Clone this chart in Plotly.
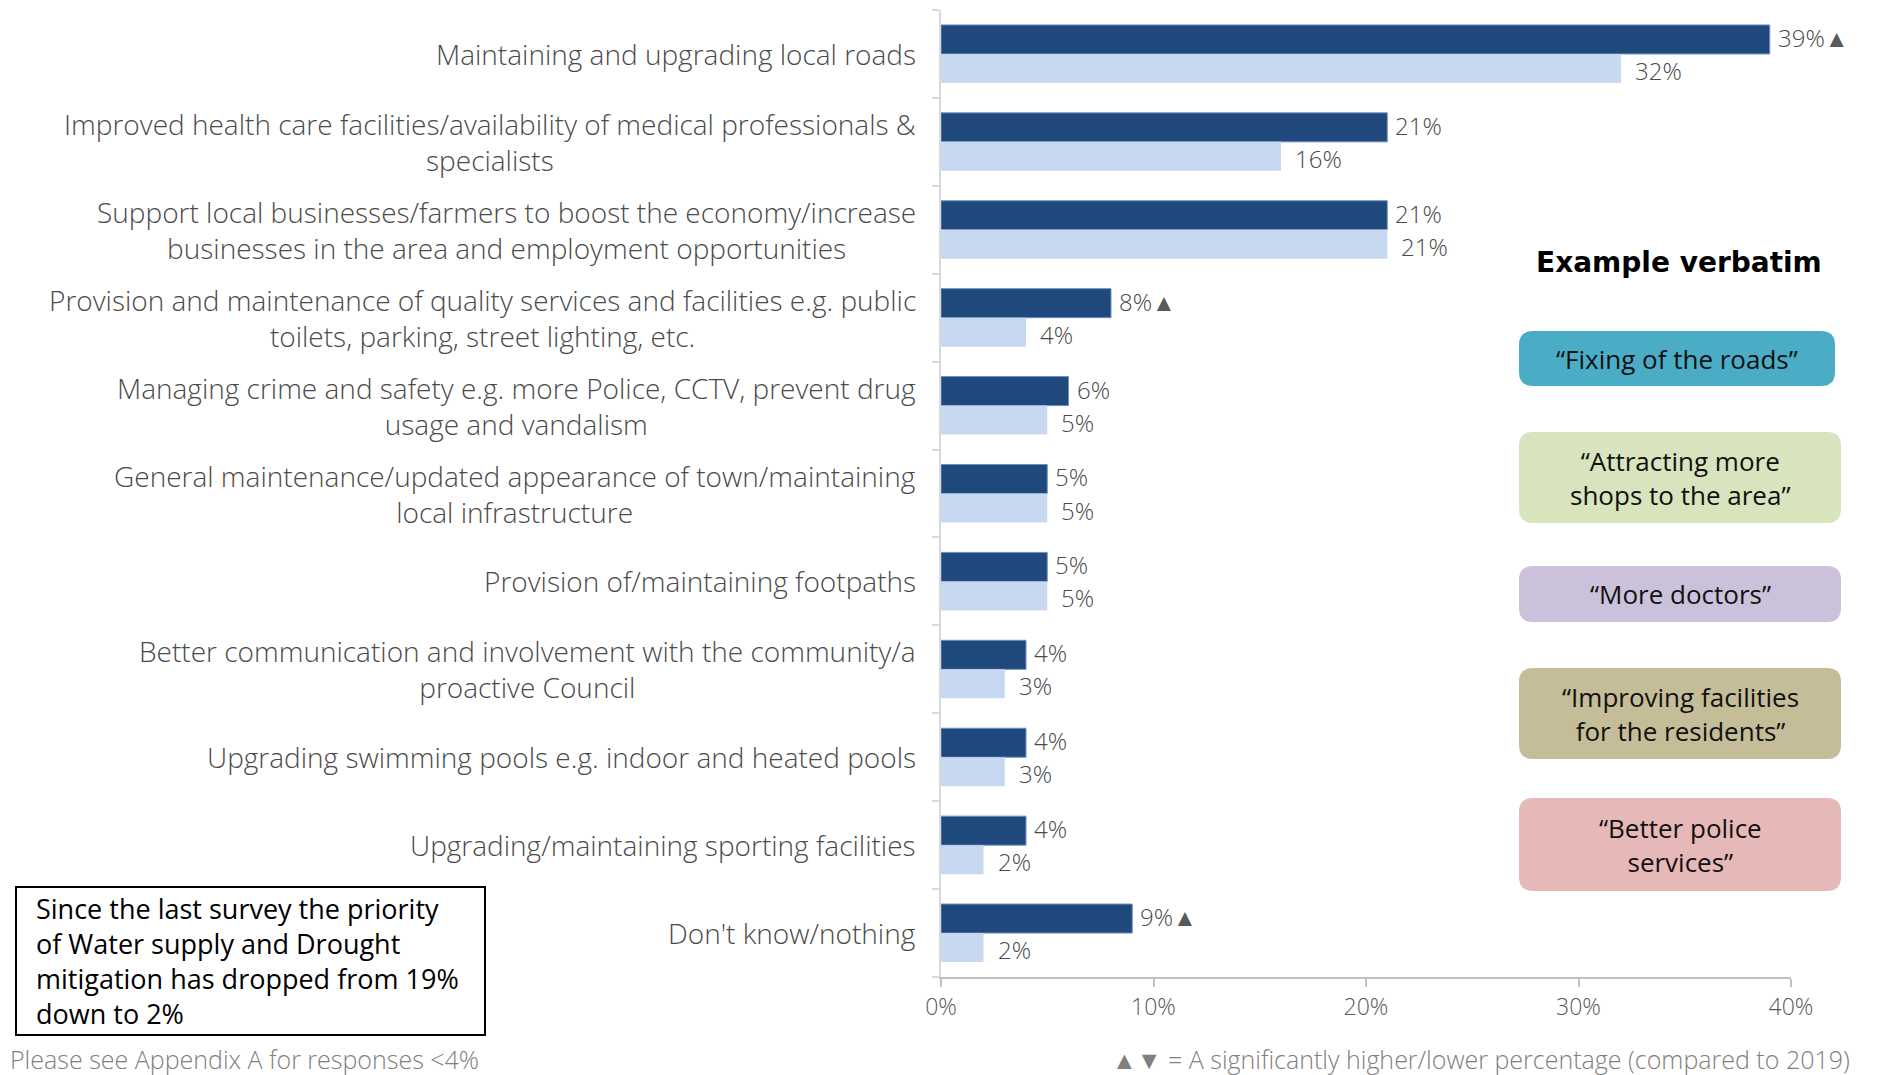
import plotly.graph_objects as go

# Survey priorities: current vs previous survey (percent of respondents)
categories = [
    "Maintaining and upgrading local roads",
    "Improved health care facilities/availability of medical professionals &<br>specialists",
    "Support local businesses/farmers to boost the economy/increase<br>businesses in the area and employment opportunities",
    "Provision and maintenance of quality services and facilities e.g. public<br>toilets, parking, street lighting, etc.",
    "Managing crime and safety e.g. more Police, CCTV, prevent drug<br>usage and vandalism",
    "General maintenance/updated appearance of town/maintaining<br>local infrastructure",
    "Provision of/maintaining footpaths",
    "Better communication and involvement with the community/a<br>proactive Council",
    "Upgrading swimming pools e.g. indoor and heated pools",
    "Upgrading/maintaining sporting facilities",
    "Don't know/nothing",
]
current = [39, 21, 21, 8, 6, 5, 5, 4, 4, 4, 9]
previous = [32, 16, 21, 4, 5, 5, 5, 3, 3, 2, 2]
sig_higher = [True, False, False, True, False, False, False, False, False, False, True]

x_ticks = [0, 10, 20, 30, 40]
x_tick_labels = ["0%", "10%", "20%", "30%", "40%"]

verbatims = [
    "“Fixing of the roads”",
    "“Attracting more<br>shops to the area”",
    "“More doctors”",
    "“Improving facilities<br>for the residents”",
    "“Better police<br>services”",
]
verbatim_colors = ["#4BACC6", "#D7E4BD", "#CCC1DA", "#C4BD97", "#E6B9B8"]

note_lines = [
    "Since the last survey the priority",
    "of Water supply and Drought",
    "mitigation has dropped from 19%",
    "down to 2%",
]

FONT = "Open Sans"
DARK = "#1F497D"
LIGHT = "#C6D9F1"
TEXT = "#4A4A4A"

W, H = 1887, 1075
L, R, T, B = 941, 96, 10, 98
PW, PH = W - L - R, H - T - B


def px(x):
    return (x - L) / PW


def py(y):
    return (H - B - y) / PH


def rounded_rect(x0, y0, x1, y1, r):
    # rounded rectangle path in paper coordinates, corners given in pixels
    rx, ry = r / PW, r / PH
    a0, a1 = px(x0), px(x1)
    b0, b1 = py(y1), py(y0)  # bottom, top
    return (
        f"M {a0 + rx},{b1} L {a1 - rx},{b1} Q {a1},{b1} {a1},{b1 - ry} "
        f"L {a1},{b0 + ry} Q {a1},{b0} {a1 - rx},{b0} "
        f"L {a0 + rx},{b0} Q {a0},{b0} {a0},{b0 + ry} "
        f"L {a0},{b1 - ry} Q {a0},{b1} {a0 + rx},{b1} Z"
    )


ypos = list(range(len(categories)))
bw = 0.33

fig = go.Figure()
fig.add_trace(go.Bar(
    y=ypos, x=current, orientation="h", width=bw, offset=-bw,
    marker=dict(color=DARK, line=dict(color="#6F8FBF", width=1)),
    hoverinfo="x", showlegend=False,
))
fig.add_trace(go.Bar(
    y=ypos, x=previous, orientation="h", width=bw, offset=0,
    marker=dict(color=LIGHT, line=dict(width=0)),
    hoverinfo="x", showlegend=False,
))

ann = []
# category labels: right-aligned block, centred lines
for i, c in enumerate(categories):
    ann.append(dict(
        xref="paper", yref="y", x=0, y=i, xanchor="right", yanchor="middle",
        xshift=-24, text=c, align="center", showarrow=False, borderpad=0,
        font=dict(family=FONT, size=28, weight=300, color=TEXT),
    ))
# value labels
for i in ypos:
    t = f"{current[i]}%"
    if sig_higher[i]:
        t += "<span style='color:#595959'>▲</span>"
    ann.append(dict(
        xref="x", yref="y", x=current[i], y=i - bw / 2, xanchor="left",
        yanchor="middle", xshift=7, yshift=2, text=t, showarrow=False,
        borderpad=0, font=dict(family=FONT, size=24, weight=300, color=TEXT),
    ))
    ann.append(dict(
        xref="x", yref="y", x=previous[i], y=i + bw / 2, xanchor="left",
        yanchor="middle", xshift=13, yshift=-2, text=f"{previous[i]}%",
        showarrow=False, borderpad=0,
        font=dict(family=FONT, size=24, weight=300, color=TEXT),
    ))

shapes = []
# verbatim panel
ann.append(dict(
    xref="paper", yref="paper", x=px(1679), y=py(262), xanchor="center",
    yanchor="middle", text="<b>Example verbatim</b>", showarrow=False,
    font=dict(family="DejaVu Sans", size=28, color="#000000"),
))
boxes = [(1519, 331, 1835, 386), (1519, 432, 1841, 523), (1519, 566, 1841, 622),
         (1519, 668, 1841, 759), (1519, 798, 1841, 891)]
for (x0, y0, x1, y1), txt, col in zip(boxes, verbatims, verbatim_colors):
    shapes.append(dict(type="path", xref="paper", yref="paper",
                       path=rounded_rect(x0, y0, x1, y1, 14),
                       fillcolor=col, line=dict(width=0), layer="below"))
    ann.append(dict(
        xref="paper", yref="paper", x=px((x0 + x1) / 2), y=py((y0 + y1) / 2),
        xanchor="center", yanchor="middle", text=txt, align="center",
        showarrow=False, font=dict(family=FONT, size=26, color="#111111"),
    ))

# note box
shapes.append(dict(type="rect", xref="paper", yref="paper",
                   x0=px(16), x1=px(485), y0=py(1035), y1=py(887),
                   line=dict(color="#000000", width=2), fillcolor="white"))
ann.append(dict(
    xref="paper", yref="paper", x=px(34), y=py(961), xanchor="left",
    yanchor="middle", text="<br>".join(note_lines), align="left",
    showarrow=False, font=dict(family=FONT, size=27, color="#000000"),
))

# footnotes
ann.append(dict(
    xref="paper", yref="paper", x=px(9), y=py(1059), xanchor="left",
    yanchor="middle", text="Please see Appendix A for responses &lt;4%",
    showarrow=False, borderpad=0,
    font=dict(family=FONT, size=25, weight=300, color="#808080"),
))
ann.append(dict(
    xref="paper", yref="paper", x=px(1851), y=py(1059), xanchor="right",
    yanchor="middle",
    text="▲▼ = A significantly higher/lower percentage (compared to 2019)",
    showarrow=False, borderpad=0,
    font=dict(family=FONT, size=25, weight=300, color="#808080"),
))

fig.update_layout(
    width=W, height=H, margin=dict(l=L, r=R, t=T, b=B, pad=0),
    paper_bgcolor="white", plot_bgcolor="white",
    barmode="overlay", annotations=ann, shapes=shapes,
    font=dict(family=FONT, color=TEXT),
)
fig.update_xaxes(
    range=[0, 40], tickvals=x_ticks, ticktext=x_tick_labels,
    showgrid=False, zeroline=False, showline=True, linecolor="#BFBFBF",
    linewidth=2, ticks="outside", ticklen=8, tickwidth=2, tickcolor="#BFBFBF",
    tickfont=dict(family=FONT, size=23, weight=300, color="#595959"),
)
fig.update_yaxes(
    range=[10.5, -0.5], tickvals=[v - 0.5 for v in range(len(categories) + 1)],
    showticklabels=False, showgrid=False, zeroline=False, showline=True,
    linecolor="#D9D9D9", linewidth=2, ticks="outside", ticklen=7, tickwidth=2,
    tickcolor="#D9D9D9",
)

fig.write_html("out.html")
